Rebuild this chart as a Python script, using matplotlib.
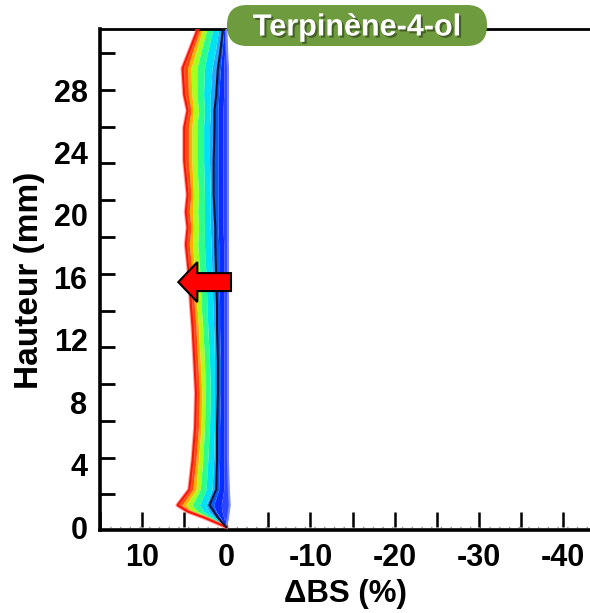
import numpy as np
import matplotlib
matplotlib.use('Agg')
import matplotlib.pyplot as plt
import matplotlib.patches as mpatches
import matplotlib.patheffects as pe

plt.rcParams['font.family'] = ['Liberation Sans', 'DejaVu Sans']
plt.rcParams['font.weight'] = 'bold'

# --- donnees ---
hauteur = [0.0, 0.6, 1.0, 1.4, 2.4, 4.3, 6.4, 8.6, 10.7, 12.8, 14.2, 16.0,
           18.1, 19.2, 20.2, 21.3, 23.5, 25.6, 26.7, 27.7, 29.4, 30.5, 31.9]

# profils dBS (%) du plus ancien (bleu) au plus recent (rouge)
p_bleu_pale = [0.0, -0.2, -0.3, -0.4, -0.3, -0.2, -0.2, -0.2, -0.2, -0.2, -0.2, -0.2,
               -0.2, -0.2, -0.2, -0.2, -0.2, -0.2, -0.2, -0.2, -0.2, -0.1, 0.0]
p_bleu_fonce = [0.0, 0.3, 0.5, 0.6, 0.3, 0.3, 0.3, 0.3, 0.3, 0.3, 0.3, 0.3,
                0.3, 0.4, 0.4, 0.4, 0.4, 0.4, 0.4, 0.3, 0.3, 0.2, 0.1]
p_bleu = [0.0, 0.7, 1.2, 1.5, 0.9, 0.8, 0.8, 0.7, 0.7, 0.8, 0.8, 0.9,
          0.9, 1.0, 1.0, 1.0, 1.0, 1.0, 1.0, 0.9, 0.7, 0.5, 0.3]
p_noir = [0.0, 1.0, 1.5, 2.0, 1.2, 1.1, 1.1, 1.0, 1.0, 1.1, 1.1, 1.2,
          1.3, 1.3, 1.4, 1.5, 1.5, 1.4, 1.4, 1.2, 1.0, 0.7, 0.4]
p_bleu_ciel = [0.0, 1.3, 2.1, 2.4, 1.7, 1.5, 1.4, 1.4, 1.4, 1.5, 1.6, 1.7,
               1.8, 1.9, 1.9, 1.9, 2.0, 2.0, 1.9, 1.9, 1.7, 1.3, 0.9]
p_cyan = [0.0, 1.6, 2.7, 3.2, 2.4, 2.2, 2.0, 1.9, 2.0, 2.2, 2.3, 2.4,
          2.6, 2.6, 2.6, 2.6, 2.7, 2.7, 2.6, 2.7, 2.6, 2.2, 1.6]
p_vert = [0.0, 2.0, 3.4, 4.1, 3.1, 2.8, 2.6, 2.5, 2.6, 2.8, 3.0, 3.1,
          3.4, 3.3, 3.4, 3.3, 3.5, 3.5, 3.3, 3.5, 3.5, 3.0, 2.3]
p_jaune = [0.0, 2.3, 4.0, 4.8, 3.6, 3.3, 3.0, 2.9, 3.1, 3.3, 3.5, 3.7,
           4.0, 3.9, 4.0, 3.9, 4.1, 4.1, 3.9, 4.1, 4.2, 3.6, 2.8]
p_orange = [0.0, 2.5, 4.3, 5.3, 4.0, 3.6, 3.3, 3.2, 3.4, 3.6, 3.8, 4.0,
            4.4, 4.2, 4.4, 4.2, 4.5, 4.5, 4.2, 4.5, 4.6, 4.0, 3.1]
p_rouge = [0.0, 2.6, 4.6, 5.8, 4.4, 4.0, 3.7, 3.6, 3.8, 4.0, 4.2, 4.4,
           4.8, 4.6, 4.8, 4.6, 5.0, 5.0, 4.6, 5.0, 5.2, 4.4, 3.4]

x_ticks = [10, 0, -10, -20, -30, -40]
y_ticks = [0, 4, 8, 12, 16, 20, 24, 28]
# petits traits sur l'axe vertical (graduation d'origine)
y_traits = [2.12, 4.42, 6.79, 9.17, 11.54, 13.85, 16.22, 18.59, 20.96, 23.33, 25.64, 28.01, 30.38]
x_traits = [15, 10, 5, 0, -5, -10, -15, -20, -25, -30, -35, -40]

fig = plt.figure(figsize=(5.9, 6.13), dpi=100)
ax = fig.add_axes([0.1695, 0.1346, 0.8305, 0.8176])

couches = [
    (p_bleu_pale, p_bleu_fonce, '#2c45ff'),
    (p_bleu_fonce, p_bleu, '#0a2cff'),
    (p_bleu, p_noir, '#0058ff'),
    (p_noir, p_bleu_ciel, '#2aa4ff'),
    (p_bleu_ciel, p_cyan, '#00e2f4'),
    (p_cyan, p_vert, '#2cff8c'),
    (p_vert, p_jaune, '#a8ff1e'),
    (p_jaune, p_orange, '#ffb000'),
    (p_orange, p_rouge, '#ff4a00'),
]
for a, b, c in couches:
    ax.fill_betweenx(hauteur, a, b, color=c, lw=0, zorder=2)

ax.plot(p_bleu_pale, hauteur, color='#7a88ff', lw=1.5, zorder=3)
ax.plot(p_rouge, hauteur, color='#ff6a6a', lw=3, alpha=0.6, zorder=3)
ax.plot(p_rouge, hauteur, color='#ff1200', lw=1.5, zorder=3)
ax.plot(p_noir, hauteur, color='#101030', lw=1.5, zorder=4)

# fleche rouge
fleche = mpatches.FancyArrow(-0.56, 15.7, 6.26, 0, width=1.15, head_width=2.56,
                             head_length=2.26, length_includes_head=True,
                             fc='#ff0000', ec='black', lw=1.5, zorder=6)
ax.add_patch(fleche)

# ligne de base pointillee et traits
ax.axhline(0, color='#999999', lw=1.0, ls=(0, (1, 6)), zorder=1)
ax.vlines(x_traits, 0, 0.95, color='black', lw=1.8, zorder=1)

ax.set_xlim(15.0, -43.2)
ax.set_ylim(-0.22, 31.9)

ax.spines['right'].set_visible(False)
for s in ['left', 'bottom']:
    ax.spines[s].set_linewidth(2.6)
ax.spines['top'].set_linewidth(2.0)

ax.set_xticks(x_ticks)
ax.set_xticklabels([str(v) for v in x_ticks])
ax.set_yticks(y_ticks)
ax.set_yticklabels([str(v) for v in y_ticks])
ax.tick_params(axis='both', which='major', length=0, labelsize=22, pad=9)
ax.set_yticks(y_traits, minor=True)
ax.tick_params(axis='y', which='minor', direction='in', length=11, width=2)
ax.tick_params(axis='x', which='minor', length=0)

ax.set_xlabel('ΔBS (%)', fontsize=22.5, fontweight='bold', labelpad=4)
ax.set_ylabel('Hauteur (mm)', fontsize=24, fontweight='bold', labelpad=6)

# titre dans une etiquette verte arrondie
boite = mpatches.FancyBboxPatch((2.27, 5.67), 2.6, 0.41,
                                boxstyle='round,pad=0,rounding_size=0.2',
                                transform=fig.dpi_scale_trans,
                                fc='#6d9b3d', ec='none', zorder=10)
fig.add_artist(boite)
fig.text(3.57 / 5.9, 1 - 0.275 / 6.13, 'Terpinène-4-ol', ha='center', va='center',
         fontsize=22, fontweight='bold', color='white', zorder=11,
         path_effects=[pe.SimplePatchShadow(offset=(1.5, -1.5), shadow_rgbFace='#2a3a18', alpha=0.6),
                       pe.Normal()])

fig.savefig('out.png', dpi=100)
